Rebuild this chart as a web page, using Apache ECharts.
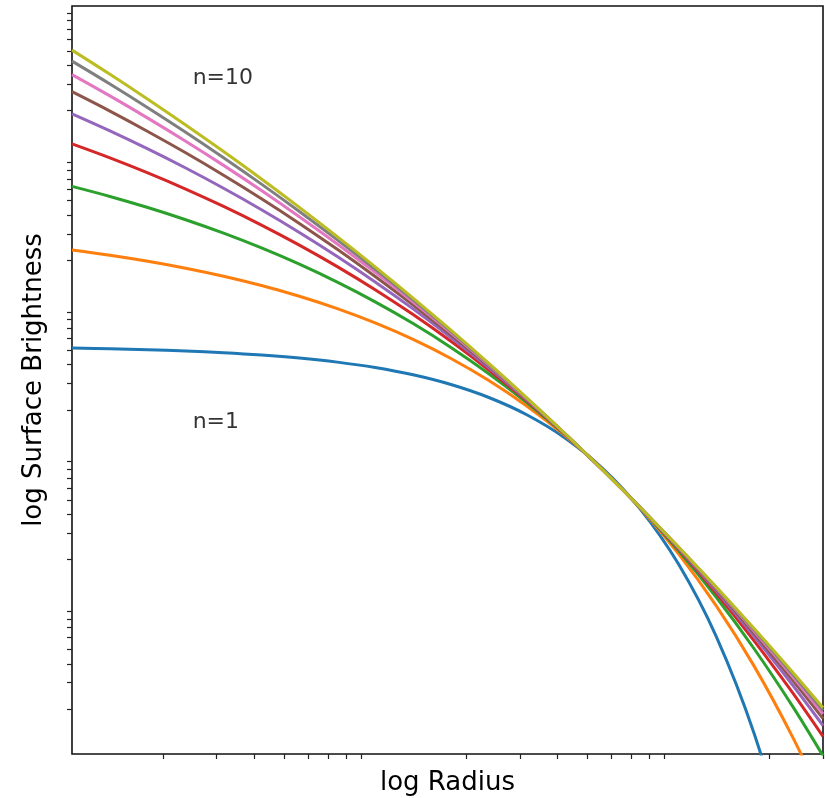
<!DOCTYPE html>
<html><head><meta charset="utf-8">
<script src="https://cdn.jsdelivr.net/npm/echarts@6/dist/echarts.min.js"></script>
<style>html,body{margin:0;padding:0;background:#fff}#c{width:825px;height:798px}</style>
</head><body><div id="c"></div>
<script>
// radius sample positions (read along the x axis)
const radius = [0.1, 0.1334, 0.1778, 0.2371, 0.3162, 0.4217, 0.5623, 0.7499, 1, 1.334, 1.778, 2.371, 3.162, 4.217, 5.623, 7.499, 10, 13.34, 17.78, 23.71, 30];
// surface brightness per profile, one list per curve
const profileN1 = [5.178, 5.121, 5.045, 4.946, 4.817, 4.650, 4.436, 4.164, 3.830, 3.424, 2.949, 2.416, 1.853, 1.301, 0.8113, 0.4321, 0.1867, 0.06094, 0.01369, 0.001870, 0.0002266];
const profileN2 = [23.40, 21.60, 19.68, 17.68, 15.62, 13.54, 11.48, 9.488, 7.613, 5.904, 4.403, 3.136, 2.121, 1.350, 0.8008, 0.4381, 0.2185, 0.09779, 0.03867, 0.01323, 0.004881];
const profileN3 = [62.24, 53.31, 44.95, 37.25, 30.29, 24.13, 18.79, 14.26, 10.53, 7.541, 5.222, 3.484, 2.232, 1.368, 0.7973, 0.4401, 0.2291, 0.1116, 0.05054, 0.02114, 0.009723];
const profileN4 = [119.7, 96.54, 76.61, 59.76, 45.75, 34.34, 25.22, 18.11, 12.69, 8.652, 5.736, 3.687, 2.293, 1.377, 0.7956, 0.4413, 0.2343, 0.1187, 0.05711, 0.02603, 0.01311];
const profileN5 = [190.0, 146.2, 110.8, 82.57, 60.48, 43.49, 30.66, 21.18, 14.31, 9.448, 6.086, 3.819, 2.332, 1.383, 0.7946, 0.4419, 0.2375, 0.1230, 0.06124, 0.02927, 0.01550];
const profileN6 = [267.5, 198.4, 145.0, 104.4, 73.93, 51.49, 35.22, 23.64, 15.56, 10.04, 6.339, 3.912, 2.358, 1.386, 0.7940, 0.4424, 0.2396, 0.1259, 0.06406, 0.03155, 0.01724];
const profileN7 = [347.9, 250.6, 178.0, 124.7, 86.03, 58.43, 39.04, 25.66, 16.57, 10.50, 6.532, 3.981, 2.377, 1.389, 0.7934, 0.4427, 0.2411, 0.1280, 0.06613, 0.03324, 0.01855];
const profileN8 = [428.3, 301.2, 209.1, 143.2, 96.79, 64.46, 42.29, 27.33, 17.38, 10.87, 6.682, 4.034, 2.392, 1.391, 0.7930, 0.4428, 0.2422, 0.1295, 0.06769, 0.03455, 0.01958];
const profileN9 = [506.9, 349.5, 238.1, 160.2, 106.4, 69.74, 45.08, 28.73, 18.05, 11.16, 6.803, 4.077, 2.403, 1.393, 0.7927, 0.4431, 0.2431, 0.1307, 0.06892, 0.03558, 0.02040];
// minor tick values
const xMinorTicks = [0.2, 0.3, 0.4, 0.5, 0.6, 0.7, 0.8, 0.9, 2, 3, 4, 5, 6, 7, 8, 9, 20, 30];
const yMinorTicks = [0.02, 0.03, 0.04, 0.05, 0.06, 0.07, 0.08, 0.09, 0.2, 0.3, 0.4, 0.5, 0.6, 0.7, 0.8, 0.9, 2, 3, 4, 5, 6, 7, 8, 9, 20, 30, 40, 50, 60, 70, 80, 90, 200, 300, 400, 500, 600, 700, 800, 900];
// annotations
const noteTexts = ['n=10', 'n=1'];
const noteR = [0.25, 0.25];
const noteValue = [300, 1.5];

const profiles = [profileN1, profileN2, profileN3, profileN4, profileN5, profileN6, profileN7, profileN8, profileN9];
const colors = ['#1f77b4', '#ff7f0e', '#2ca02c', '#d62728', '#9467bd', '#8c564b', '#e377c2', '#7f7f7f', '#bcbd22'];
const FONT = 'DejaVu Sans';

const series = profiles.map((vals, i) => ({
  type: 'line',
  name: 'n=' + (i + 1),
  data: radius.map((r, j) => [r, vals[j]]),
  showSymbol: false,
  smooth: 0.35,
  lineStyle: { color: colors[i], width: 3 },
  itemStyle: { color: colors[i] },
  clip: true,
  silent: true,
  z: 2 + i
}));
series.push({
  type: 'scatter',
  data: noteR.map((r, i) => [r, noteValue[i]]),
  symbolSize: 0,
  silent: true,
  z: 20,
  label: {
    show: true,
    formatter: p => noteTexts[p.dataIndex],
    position: [0, 0],
    align: 'left',
    verticalAlign: 'bottom',
    offset: [0, 5],
    fontFamily: FONT,
    fontSize: 22,
    color: '#000'
  }
});

const chart = echarts.init(document.getElementById('c'), null, { renderer: 'canvas' });
chart.setOption({
  animation: false,
  backgroundColor: '#fff',
  grid: { left: 72, right: 2, top: 6, bottom: 44, outerBoundsMode: 'none', containLabel: false, show: true, borderColor: '#111', borderWidth: 1.6, backgroundColor: 'transparent' },
  xAxis: {
    type: 'log', logBase: 10, min: 0.1, max: 30,
    name: 'log Radius', nameLocation: 'middle', nameGap: 16,
    nameTextStyle: { fontFamily: FONT, fontSize: 26, color: '#000' },
    axisLine: { show: false },
    axisTick: { show: true, customValues: xMinorTicks, length: 5, lineStyle: { color: '#222', width: 1.2 } },
    axisLabel: { show: false },
    splitLine: { show: false },
    minorTick: { show: false }
  },
  yAxis: {
    type: 'log', logBase: 10, min: 0.01, max: 1000,
    name: 'log Surface Brightness', nameLocation: 'middle', nameGap: 25,
    nameTextStyle: { fontFamily: FONT, fontSize: 26, color: '#000' },
    axisLine: { show: false },
    axisTick: { show: true, customValues: yMinorTicks, length: 5, lineStyle: { color: '#222', width: 1.2 } },
    axisLabel: { show: false },
    splitLine: { show: false },
    minorTick: { show: false }
  },
  series: series
});
</script></body></html>
